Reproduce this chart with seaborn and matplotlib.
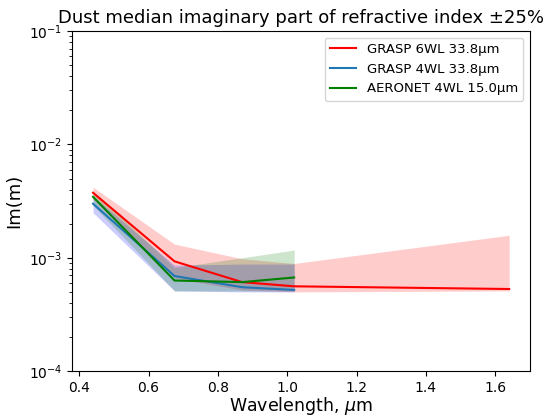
import numpy as np
import pandas as pd
import matplotlib
matplotlib.use('Agg')
import matplotlib.pyplot as plt
import seaborn as sns

# Data
wl_6 = [0.44, 0.675, 0.87, 1.02, 1.64]
wl_4 = [0.44, 0.675, 0.87, 1.02]

grasp6_med = [3.75e-3, 9.3e-4, 6.1e-4, 5.6e-4, 5.3e-4]
grasp6_lo = [3.3e-3, 6.6e-4, 5.2e-4, 5.0e-4, 5.1e-4]
grasp6_hi = [4.2e-3, 1.32e-3, 9.8e-4, 8.9e-4, 1.58e-3]

grasp4_med = [3.0e-3, 6.9e-4, 5.5e-4, 5.2e-4]
grasp4_lo = [2.5e-3, 5.1e-4, 5.0e-4, 5.0e-4]
grasp4_hi = [3.5e-3, 8.6e-4, 8.8e-4, 8.8e-4]

aero_med = [3.45e-3, 6.3e-4, 6.1e-4, 6.7e-4]
aero_lo = [2.9e-3, 5.1e-4, 5.1e-4, 5.1e-4]
aero_hi = [3.9e-3, 8.2e-4, 1.0e-3, 1.17e-3]

labels = ['GRASP 6WL 33.8µm', 'GRASP 4WL 33.8µm', 'AERONET 4WL 15.0µm']

df = pd.concat([
    pd.DataFrame({'wl': wl_6, 'im': grasp6_med, 'src': labels[0]}),
    pd.DataFrame({'wl': wl_4, 'im': grasp4_med, 'src': labels[1]}),
    pd.DataFrame({'wl': wl_4, 'im': aero_med, 'src': labels[2]}),
])

fig = plt.figure(figsize=(5.43, 4.16), dpi=100)
ax = fig.add_axes([0.133, 0.108, 0.843, 0.817])

ax.fill_between(wl_6, grasp6_lo, grasp6_hi, color='red', alpha=0.2, linewidth=0)
ax.fill_between(wl_4, grasp4_lo, grasp4_hi, color='blue', alpha=0.2, linewidth=0)
ax.fill_between(wl_4, aero_lo, aero_hi, color='green', alpha=0.2, linewidth=0)

sns.lineplot(data=df, x='wl', y='im', hue='src', ax=ax,
             palette=['red', 'tab:blue', 'green'], linewidth=1.5)

ax.set_yscale('log')
ax.set_ylim(1e-4, 1e-1)
ax.set_xlabel('Wavelength, $\\mu$m', fontsize=12.5, labelpad=0)
ax.set_ylabel('Im(m)', fontsize=13)
ax.set_title('Dust median imaginary part of refractive index ±25%', fontsize=13)
ax.legend(loc='upper right', fontsize=9.5)

plt.savefig('out.png')
